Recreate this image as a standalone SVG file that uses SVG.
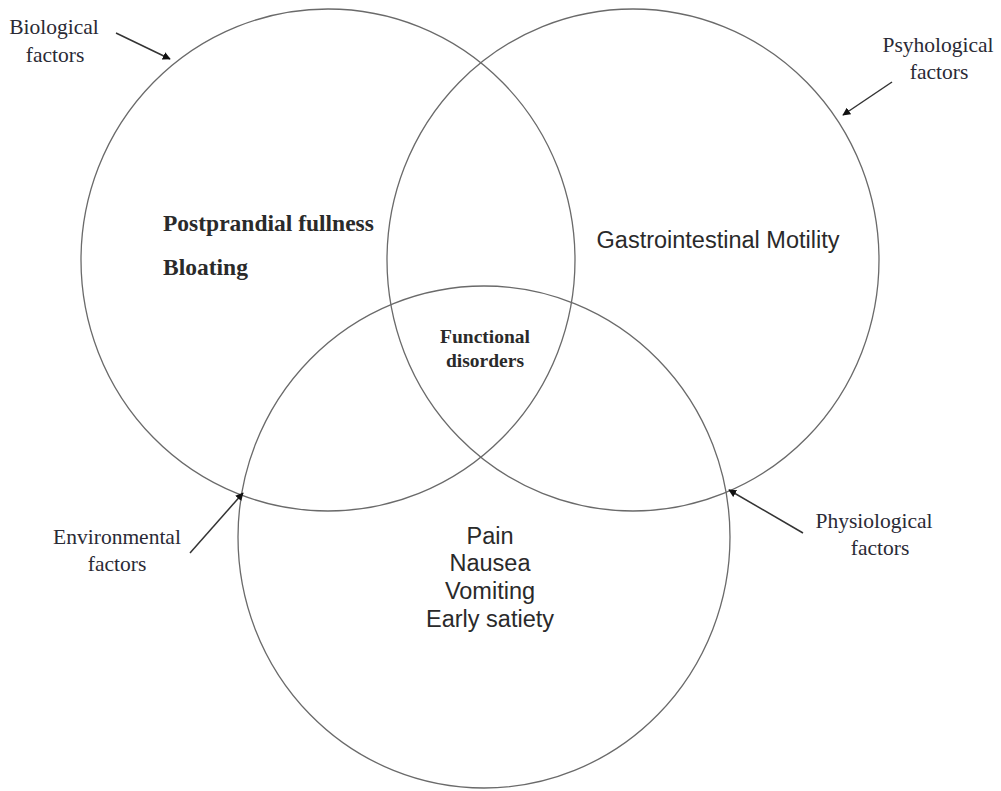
<svg xmlns="http://www.w3.org/2000/svg" width="1001" height="791" viewBox="0 0 1001 791">
<style>
.c{fill:none;stroke:#6a6a6a;stroke-width:1.3}
.lab{font-family:"Liberation Serif",serif;font-size:21.5px;fill:#2a2a35;text-anchor:middle}
.bs{font-family:"Liberation Serif",serif;font-weight:bold;fill:#2a2a2a}
.ss{font-family:"Liberation Sans",Arial,sans-serif;font-size:23.5px;fill:#2a2a2a}
.a{stroke:#333;stroke-width:1.5;fill:none;marker-end:url(#ah)}
</style>
<defs>
<marker id="ah" viewBox="0 0 10 10" refX="9" refY="5" markerWidth="8" markerHeight="8" markerUnits="userSpaceOnUse" orient="auto">
<path d="M0,0 L10,5 L0,10 z" fill="#111"/>
</marker>
</defs>
<rect width="1001" height="791" fill="#fff"/>
<g id="circle-left"><ellipse class="c" cx="328" cy="260" rx="247" ry="251"/>
<text class="bs" x="163" y="231" font-size="23.5">Postprandial fullness</text>
<text class="bs" x="163" y="275" font-size="23.5">Bloating</text></g>
<g id="circle-right"><ellipse class="c" cx="633" cy="260" rx="246" ry="251"/>
<text class="ss" x="718" y="248" text-anchor="middle">Gastrointestinal Motility</text></g>
<g id="circle-bottom"><ellipse class="c" cx="484" cy="537" rx="246" ry="251"/>
<text class="ss" x="490" y="544" text-anchor="middle">Pain</text>
<text class="ss" x="490" y="571" text-anchor="middle">Nausea</text>
<text class="ss" x="490" y="599" text-anchor="middle">Vomiting</text>
<text class="ss" x="490" y="627" text-anchor="middle">Early satiety</text></g>
<g id="center"><text class="bs" font-size="19.5" x="485" y="343" text-anchor="middle">Functional</text>
<text class="bs" font-size="19.5" x="485" y="367" text-anchor="middle">disorders</text></g>
<g id="label-bio"><text class="lab" x="54" y="34">Biological</text><text class="lab" x="55" y="62">factors</text></g>
<g id="label-psy"><text class="lab" x="938" y="52">Psyhological</text><text class="lab" x="939" y="79">factors</text></g>
<g id="label-env"><text class="lab" x="117" y="544">Environmental</text><text class="lab" x="117" y="571">factors</text></g>
<g id="label-phy"><text class="lab" x="874" y="528">Physiological</text><text class="lab" x="880" y="555">factors</text></g>
<g id="connectors">
<line class="a" x1="116" y1="33" x2="170" y2="59"/>
<line class="a" x1="892" y1="82" x2="843" y2="115"/>
<line class="a" x1="190" y1="553" x2="243" y2="493"/>
<line class="a" x1="803" y1="533" x2="729" y2="490"/>
</g>
</svg>
